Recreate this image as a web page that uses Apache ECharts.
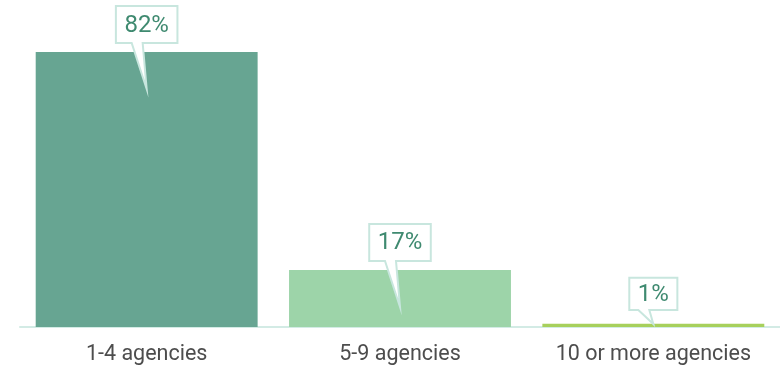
<!DOCTYPE html>
<html>
<head>
<meta charset="utf-8">
<script src="https://cdn.jsdelivr.net/npm/echarts@6/dist/echarts.min.js"></script>
<style>
  html, body { margin: 0; padding: 0; background: #ffffff; }
  #chart { width: 780px; height: 369px; }
</style>
</head>
<body>
<div id="chart"></div>
<script>
// Share of respondents by number of agencies worked with
const categories = ['1-4 agencies', '5-9 agencies', '10 or more agencies'];
const shares = [82, 17, 1];
const barColors = ['#67a592', '#9dd4a9', '#a7d05c'];

const calloutFont = '24px Roboto';
const measureCtx = document.createElement('canvas').getContext('2d');
function textWidth(str) {
  measureCtx.font = calloutFont;
  return measureCtx.measureText(str).width;
}

// Speech-bubble value label anchored above each bar, tail pointing into the bar
function renderCallout(params, api) {
  const idx = api.value(0);
  const v = api.value(1);
  const top = api.coord([idx, v]);
  const base = api.coord([idx, 0]);
  const cx = top[0];
  const ty = top[1];
  const text = v + '%';
  const w = textWidth(text) + 17;
  const tip = Math.min(ty + 37, base[1] - 3);
  const boxTop = ty - 46;
  const boxBottom = Math.min(ty - 9, tip - 14);
  const L = cx - w / 2;
  const R = cx + w / 2;
  return {
    type: 'group',
    children: [
      {
        type: 'polygon',
        shape: {
          points: [[L, boxTop], [R, boxTop], [R, boxBottom], [cx - 4, boxBottom],
                   [cx, tip], [cx - 15, boxBottom], [L, boxBottom]]
        },
        style: { fill: '#ffffff', stroke: '#c8e6de', lineWidth: 2 }
      },
      {
        type: 'text',
        style: {
          text: text,
          x: cx,
          y: (boxTop + boxBottom) / 2 + 1,
          align: 'center',
          verticalAlign: 'middle',
          fill: '#3f8a70',
          font: calloutFont
        }
      }
    ]
  };
}

const chart = echarts.init(document.getElementById('chart'), null, { renderer: 'canvas' });
chart.setOption({
  animation: false,
  grid: { left: 20, right: 0, top: 52, bottom: 42 },
  xAxis: {
    type: 'category',
    data: categories,
    axisTick: { show: false },
    axisLine: { lineStyle: { color: '#d3ebe5', width: 2 } },
    axisLabel: {
      interval: 0,
      hideOverlap: false,
      fontSize: 21.5,
      fontFamily: 'Roboto',
      color: '#4d4d4d',
      margin: 17
    }
  },
  yAxis: {
    type: 'value',
    min: 0,
    max: 82,
    show: false,
    splitLine: { show: false }
  },
  series: [
    {
      type: 'bar',
      barCategoryGap: '12.4%',
      data: shares.map((v, i) => ({ value: v, itemStyle: { color: barColors[i] } }))
    },
    {
      type: 'custom',
      renderItem: renderCallout,
      clip: false,
      z: 10,
      encode: { x: 0, y: 1 },
      data: shares.map((v, i) => [i, v])
    }
  ]
});
</script>
</body>
</html>
